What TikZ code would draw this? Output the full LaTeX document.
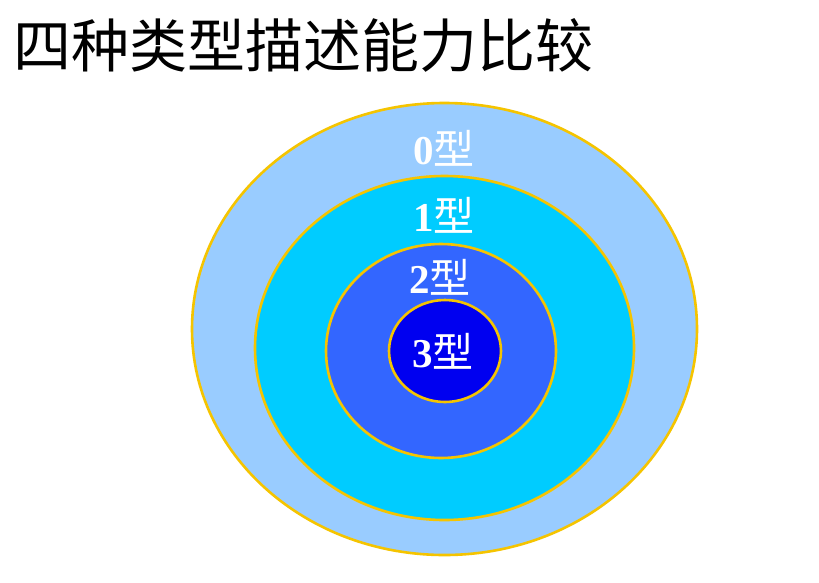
\documentclass[tikz,border=0pt]{standalone}
\usepackage{fontspec}
\setmainfont{Liberation Serif}
\newfontfamily\cjk{Noto Sans CJK SC}
\definecolor{ring0}{HTML}{99CCFF}
\definecolor{ring1}{HTML}{00CCFF}
\definecolor{ring2}{HTML}{3366FF}
\definecolor{ring3}{HTML}{0000F0}
\definecolor{rim}{HTML}{F5C400}
\begin{document}
\begin{tikzpicture}[x=1pt,y=-1pt,
  ring/.style={draw=rim,line width=2.6pt},
  lbl/.style={text=white,font=\fontsize{41}{44}\selectfont\bfseries,inner sep=0pt}]
\useasboundingbox (0,0) rectangle (819,582);
\fill[white] (0,0) rectangle (819,582);
\node[anchor=west,inner sep=0pt,font=\cjk\fontsize{58}{62}\selectfont] (title) at (13,45) {四种类型描述能力比较};
\filldraw[ring,fill=ring0] (444.5,329) ellipse [x radius=252.5,y radius=226];
\filldraw[ring,fill=ring1] (444.5,348) ellipse [x radius=189.5,y radius=172];
\filldraw[ring,fill=ring2] (441,351) ellipse [x radius=115,y radius=107];
\filldraw[ring,fill=ring3] (445,351) ellipse [x radius=56,y radius=51];
\node[lbl] (l0) at (444,148) {0{\cjk\mdseries 型}};
\node[lbl] (l1) at (444,215) {1{\cjk\mdseries 型}};
\node[lbl] (l2) at (440,277) {2{\cjk\mdseries 型}};
\node[lbl] (l3) at (443,351) {3{\cjk\mdseries 型}};
\end{tikzpicture}
\end{document}
